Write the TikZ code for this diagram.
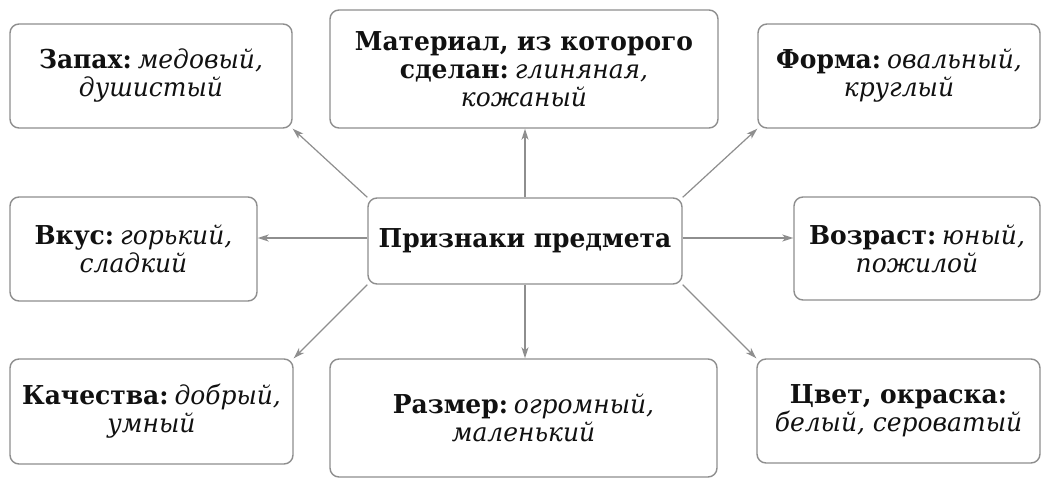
\documentclass[tikz,border=0pt]{standalone}
\usepackage{fontspec}
\setmainfont{DejaVu Serif}[FakeStretch=0.96]
\usetikzlibrary{arrows.meta}
\definecolor{edge}{HTML}{8E8E8E}
\definecolor{ink}{HTML}{111111}
\newcommand{\gapsp}{\hspace{6pt}}
\tikzset{
  box/.style={draw=edge, line width=1.4pt, rounded corners=9pt, fill=white,
    align=center, text=ink, inner sep=0pt,
    font=\fontsize{26}{28}\selectfont},
  link/.style={draw=edge, line width=1.2pt, -{Stealth[length=11pt,width=7pt,inset=3pt]}}
}
\begin{document}
\begin{tikzpicture}[x=1pt,y=-1pt]
\path[use as bounding box, fill=white] (0,0) rectangle (1050,487);

\node[box, minimum width=282pt, minimum height=104pt] (zap) at (151,76)
  {\textbf{Запах:}\gapsp\textit{медовый,}\\ \textit{душистый}};
\node[box, minimum width=388pt, minimum height=118pt] (mat) at (524,69)
  {\textbf{Материал, из которого}\\ \textbf{сделан:}\gapsp\textit{глиняная,}\\ \textit{кожаный}};
\node[box, minimum width=282pt, minimum height=104pt] (form) at (899,76)
  {\textbf{Форма:}\gapsp\textit{овальный,}\\ \textit{круглый}};
\node[box, minimum width=247pt, minimum height=104pt] (vkus) at (133.5,249)
  {\textbf{Вкус:}\gapsp\textit{горький,}\\ \textit{сладкий}};
\node[box, minimum width=314pt, minimum height=86pt] (cen) at (525,241)
  {\textbf{Признаки предмета}};
\node[box, minimum width=246pt, minimum height=103pt] (voz) at (917,248.5)
  {\textbf{Возраст:}\gapsp\textit{юный,}\\ \textit{пожилой}};
\node[box, minimum width=283pt, minimum height=105pt] (kach) at (151.5,411.5)
  {\textbf{Качества:}\gapsp\textit{добрый,}\\ \textit{умный}};
\node[box, minimum width=387pt, minimum height=118pt] (razm) at (523.5,418)
  {\textbf{Размер:}\gapsp\textit{огромный,}\\ \textit{маленький}};
\node[box, minimum width=283pt, minimum height=104pt] (cvet) at (898.5,411)
  {\textbf{Цвет, окраска:}\\ \textit{белый, сероватый}};

\draw[link] (cen.north west) -- (zap.south east);
\draw[link] (cen.north) -- (cen.north |- mat.south);
\draw[link] (cen.north east) -- (form.south west);
\draw[link] ([yshift=3pt]cen.west) -- ([yshift=3pt]cen.west -| vkus.east);
\draw[link] ([yshift=3pt]cen.east) -- ([yshift=3pt]cen.east -| voz.west);
\draw[link] (cen.south west) -- (kach.north east);
\draw[link] (cen.south) -- (cen.south |- razm.north);
\draw[link] (cen.south east) -- (cvet.north west);
\end{tikzpicture}
\end{document}
